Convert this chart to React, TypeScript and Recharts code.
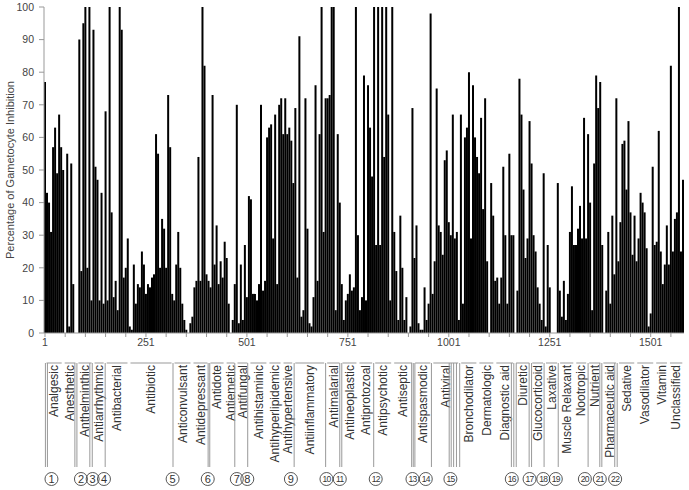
import { Bar, BarChart, ReferenceArea, ReferenceLine, XAxis, YAxis } from "recharts";

// percentage of gametocyte inhibition, one value per block of 5 compounds (1-5, 6-10, ...)
const inhibition: number[] = [
  77, 43, 40, 31, 57, 63, 49, 67, 57, 50,
  0, 55, 2, 52, 15, 0, 0, 90, 19, 95,
  100, 20, 100, 10, 93, 51, 47, 10, 43, 9,
  68, 10, 100, 37, 11, 16, 7, 100, 93, 17,
  20, 29, 2, 1, 21, 9, 15, 14, 25, 21,
  12, 15, 14, 17, 18, 61, 55, 20, 35, 32,
  20, 73, 57, 12, 10, 21, 31, 20, 9, 4,
  1, 0, 3, 5, 14, 16, 54, 16, 100, 82,
  18, 16, 14, 73, 21, 33, 15, 22, 17, 28,
  23, 9, 0, 4, 15, 70, 3, 21, 4, 27,
  11, 42, 41, 12, 12, 10, 15, 70, 13, 16,
  60, 63, 64, 29, 67, 15, 70, 72, 61, 72,
  61, 63, 59, 46, 69, 17, 91, 5, 7, 72,
  32, 3, 2, 11, 76, 16, 61, 100, 31, 72,
  72, 73, 100, 100, 7, 61, 40, 15, 4, 10,
  12, 18, 13, 14, 100, 30, 7, 11, 79, 10,
  76, 63, 48, 100, 27, 100, 27, 100, 54, 100,
  67, 10, 100, 31, 19, 4, 36, 20, 4, 11,
  0, 2, 69, 23, 33, 3, 1, 1, 14, 4,
  9, 98, 12, 22, 75, 33, 31, 24, 53, 56,
  34, 30, 67, 29, 31, 4, 67, 9, 60, 63,
  80, 29, 76, 60, 54, 49, 66, 38, 72, 22,
  0, 46, 36, 16, 17, 9, 17, 51, 30, 9,
  55, 30, 30, 0, 13, 78, 67, 44, 23, 29,
  65, 52, 30, 25, 14, 9, 4, 49, 2, 27,
  14, 0, 0, 0, 46, 13, 5, 16, 4, 12,
  31, 45, 27, 27, 32, 39, 29, 66, 29, 61,
  40, 7, 52, 79, 69, 77, 27, 0, 13, 31,
  9, 36, 18, 72, 22, 34, 58, 59, 44, 65,
  37, 24, 36, 22, 29, 43, 40, 37, 26, 2,
  6, 51, 27, 28, 62, 25, 15, 21, 33, 21,
  82, 25, 35, 37, 100, 25, 47,
];

const xTicks = [
  1, 51, 101, 151, 201, 251, 301, 351, 401, 451, 501, 551, 601, 651, 701, 751,
  801, 851, 901, 951, 1001, 1051, 1101, 1151, 1201, 1251, 1301, 1351, 1401,
  1451, 1501, 1551,
];
const yTicks = [0, 10, 20, 30, 40, 50, 60, 70, 80, 90, 100];

const categoryNames = [
  "Analgesic", "Anesthetic", "Anthelminthic", "Antiarrhythmic", "Antibacterial",
  "Antibiotic", "Anticonvulsant", "Antidepressant", "Antidote", "Antiemetic",
  "Antifungal", "Antihistaminic", "Antihyperlipidemic", "Antihypertensive",
  "Antiinflammatory", "Antimalarial", "Antineoplastic", "Antiprotozoal",
  "Antipsychotic", "Antiseptic", "Antispasmodic", "Antiviral", "Bronchodilator",
  "Dermatologic", "Diagnostic aid", "Diuretic", "Glucocorticoid", "Laxative",
  "Muscle Relaxant", "Nootropic", "Nutrient", "Pharmaceutic aid", "Sedative",
  "Vasodilator", "Vitamin", "Unclassified",
];
// first compound of each class, plus the end of the last one
const categoryStarts = [
  1, 46, 80, 120, 150, 209, 318, 365, 407, 447, 474, 506, 553, 588, 617, 696,
  734, 776, 815, 862, 914, 959, 1028, 1073, 1115, 1164, 1204, 1238, 1273, 1313,
  1345, 1380, 1419, 1464, 1511, 1545, 1583,
];

// small classes marked with circled numbers
const markerNumbers = [
  1, 2, 3, 4, 5, 6, 7, 8, 9, 10, 11, 12, 13, 14, 15, 16, 17, 18, 19, 20, 21, 22,
];
const markerLines: number[][] = [
  [2, 7], [75, 80], [112, 118], [150], [318], [405, 409], [471], [503], [618],
  [696], [731, 736], [815], [909, 913, 917], [958], [1002, 1007, 1013, 1020, 1028],
  [1156, 1162, 1168], [1200, 1206], [1237], [1272], [1346], [1375, 1380], [1412, 1418],
];
const markerAt = [
  17, 90, 119, 147, 317, 404, 476, 502, 610, 698, 731, 820, 911, 944, 1005,
  1157, 1201, 1235, 1266, 1338, 1375, 1413,
];

const data = inhibition.map((pct, i) => ({ idx: 1 + 5 * i, pct }));

const font = "'Liberation Sans', Arial, sans-serif";
const textColor = "#444";
const DROP = 30; // gap between the x axis and the class brackets

function YTitle({ viewBox }: any) {
  const cy = viewBox ? viewBox.y + viewBox.height / 2 : 170;
  return (
    <text
      transform={`translate(10,${cy}) rotate(-90)`}
      textAnchor="middle"
      dy="0.35em"
      fontSize={11}
      fontFamily={font}
      fill={textColor}
    >
      Percentage of Gametocyte Inhibition
    </text>
  );
}

const classShape = (name: string) => (p: any) => {
  const bottom = p.y + p.height;
  const cx = p.x + p.width / 2;
  return (
    <g>
      <line
        x1={p.x + 1.5}
        x2={p.x + p.width - 1.5}
        y1={bottom + DROP}
        y2={bottom + DROP}
        stroke="#bbb"
        strokeWidth={1.5}
      />
      <text
        transform={`translate(${cx},${bottom + DROP + 2}) rotate(-90)`}
        textAnchor="end"
        dy="0.35em"
        fontSize={12}
        fontFamily={font}
        fill="#333"
      >
        {name}
      </text>
    </g>
  );
};

const markerLineShape = (p: any) => {
  const bottom = Math.max(p.y1, p.y2);
  return (
    <line
      x1={p.x1}
      x2={p.x1}
      y1={bottom + DROP}
      y2={bottom + DROP + 104}
      stroke="#999"
      strokeWidth={1}
    />
  );
};

const markerSymbolShape = (n: number) => (p: any) => {
  const bottom = Math.max(p.y1, p.y2);
  const cy = bottom + DROP + 116;
  return (
    <g>
      <circle cx={p.x1} cy={cy} r={6.5} fill="none" stroke="#444" strokeWidth={0.9} />
      <text
        x={p.x1}
        y={cy}
        dy="0.36em"
        textAnchor="middle"
        fontSize={n < 10 ? 11 : 8.5}
        letterSpacing={n < 10 ? 0 : -0.7}
        fontFamily={font}
        fill="#333"
      >
        {n}
      </text>
    </g>
  );
};

export default function App() {
  return (
    <div style={{ position: "absolute", left: 0, top: 0 }}>
      <BarChart
        width={689}
        height={490}
        data={data}
        margin={{ top: 7, right: 5, bottom: 137, left: 0 }}
      >
        <XAxis
          type="number"
          dataKey="idx"
          domain={[-1.5, 1583.5]}
          ticks={xTicks}
          interval={0}
          tickFormatter={(v: number) => ((v - 1) % 250 === 0 ? String(v) : "")}
          tickSize={4}
          tickMargin={2}
          height={20}
          stroke="#999"
          tick={{ fill: textColor, fontSize: 10.5, fontFamily: font }}
          allowDataOverflow
        />
        <YAxis
          domain={[0, 100]}
          ticks={yTicks}
          interval={0}
          width={44}
          tickSize={5}
          tickMargin={5}
          stroke="#999"
          tick={{ fill: textColor, fontSize: 10.5, fontFamily: font }}
          label={<YTitle />}
        />
        <Bar dataKey="pct" fill="#000" barSize={2} isAnimationActive={false} />
        {categoryNames.map((name, k) => (
          <ReferenceArea
            key={name}
            x1={categoryStarts[k]}
            x2={categoryStarts[k + 1]}
            shape={classShape(name)}
          />
        ))}
        {markerLines.flatMap((xs, k) =>
          xs.map((x) => (
            <ReferenceLine key={`l${k}-${x}`} x={x} shape={markerLineShape} />
          ))
        )}
        {markerNumbers.map((n, k) => (
          <ReferenceLine
            key={`s${n}`}
            x={markerAt[k]}
            shape={markerSymbolShape(n)}
          />
        ))}
      </BarChart>
    </div>
  );
}
